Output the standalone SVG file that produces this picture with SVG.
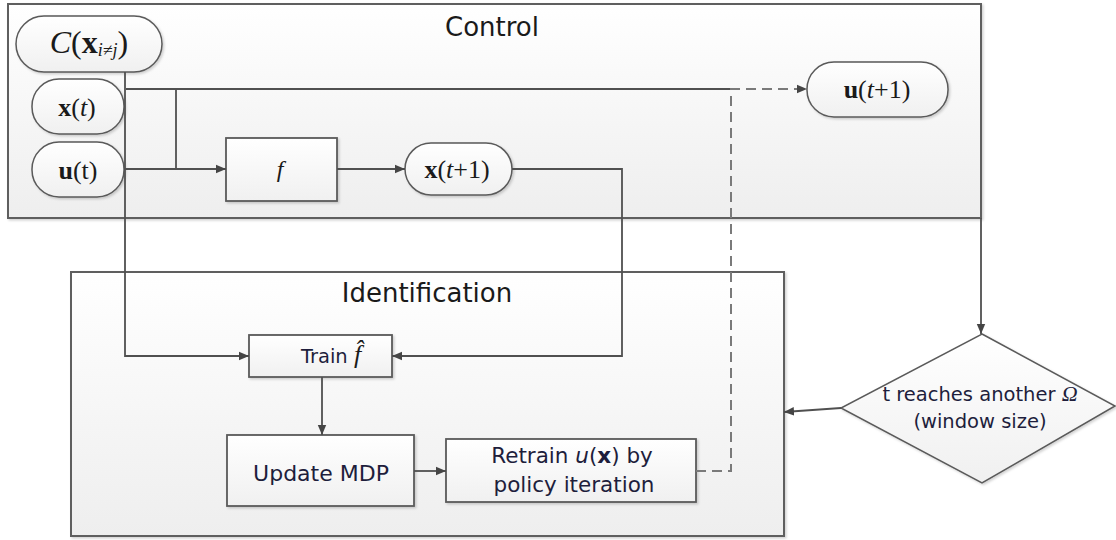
<svg xmlns="http://www.w3.org/2000/svg" width="1116" height="540" viewBox="0 0 1116 540">
  <defs>
    <linearGradient id="panelFill" x1="0" y1="0" x2="0" y2="1">
      <stop offset="0" stop-color="#ffffff"/>
      <stop offset="1" stop-color="#eeeeee"/>
    </linearGradient>
    <linearGradient id="nodeFill" x1="0" y1="0" x2="0" y2="1">
      <stop offset="0" stop-color="#ffffff"/>
      <stop offset="1" stop-color="#f0f0f0"/>
    </linearGradient>
    <filter id="shadow" x="-5%" y="-5%" width="110%" height="115%">
      <feDropShadow dx="1.5" dy="1.5" stdDeviation="1.2" flood-color="#000000" flood-opacity="0.18"/>
    </filter>
    <marker id="arrow" viewBox="0 0 10 10" refX="10" refY="5" markerWidth="10" markerHeight="10" markerUnits="userSpaceOnUse" orient="auto">
      <path d="M0,0.8 L10,5 L0,9.2 Z" fill="#454545"/>
    </marker>
    <style>
      .panel { fill: url(#panelFill); stroke: #5e5e5e; stroke-width: 2; filter: url(#shadow); }
      .box { fill: url(#nodeFill); stroke: #5a5a5a; stroke-width: 1.8; filter: url(#shadow); }
      .pill { fill: url(#nodeFill); stroke: #5a5a5a; stroke-width: 1.5; filter: url(#shadow); }
      .title { font-family: "DejaVu Sans", "Liberation Sans", sans-serif; font-size: 26px; fill: #1a1a1a; text-anchor: middle; }
      .label { font-family: "DejaVu Sans", "Liberation Sans", sans-serif; fill: #1e1e3c; text-anchor: middle; }
      .math { font-family: "Liberation Serif", "DejaVu Serif", serif; fill: #1a1a1a; text-anchor: middle; }
      .serif { font-family: "Liberation Serif", "DejaVu Serif", serif; }
      .wire { fill: none; stroke: #505050; stroke-width: 1.8; }
      .dash { fill: none; stroke: #7a7a7a; stroke-width: 2; stroke-dasharray: 10 6; }
      .b { font-weight: bold; }
      .i { font-style: italic; }
    </style>
  </defs>

  <rect width="1116" height="540" fill="#ffffff"/>

  <!-- Control panel -->
  <g id="control">
    <rect class="panel" x="8" y="4" width="973" height="214"/>
    <text class="title" x="492" y="36">Control</text>
  </g>

  <!-- Identification panel -->
  <g id="identification">
    <rect class="panel" x="71" y="272" width="713" height="264"/>
    <text class="title" x="427" y="302">Identification</text>
  </g>

  <!-- Cost input C(x_{i≠j}) -->
  <g id="node-cost">
    <rect class="pill" x="16" y="16" width="146" height="56" rx="28" ry="28"/>
    <text class="math" x="89" y="53" font-size="32" fill="#202048"><tspan class="i">C</tspan>(<tspan class="b">x</tspan><tspan class="i" font-size="18" dy="3">i≠j</tspan><tspan dy="-3">)</tspan></text>
  </g>

  <!-- State x(t) -->
  <g id="node-xt">
    <rect class="pill" x="32" y="79" width="92" height="55" rx="27" ry="27"/>
    <text class="math" x="77" y="116" font-size="26"><tspan class="b">x</tspan>(<tspan class="i">t</tspan>)</text>
  </g>

  <!-- Action u(t) -->
  <g id="node-ut">
    <rect class="pill" x="32" y="142" width="92" height="55" rx="27" ry="27"/>
    <text class="math" x="78" y="179" font-size="26"><tspan class="b">u</tspan>(t)</text>
  </g>

  <!-- Dynamics f -->
  <g id="node-f">
    <rect class="box" x="226" y="138" width="111" height="63"/>
    <text class="math i" x="280" y="177" font-size="24">f</text>
  </g>

  <!-- Next state x(t+1) -->
  <g id="node-xt1">
    <rect class="pill" x="405" y="143" width="107" height="52" rx="26" ry="26"/>
    <text class="math" x="457" y="178" font-size="26"><tspan class="b">x</tspan>(<tspan class="i">t</tspan>+1)</text>
  </g>

  <!-- Next action u(t+1) -->
  <g id="node-ut1">
    <rect class="pill" x="807" y="62" width="141" height="55" rx="27" ry="27"/>
    <text class="math" x="877" y="98" font-size="26"><tspan class="b">u</tspan>(<tspan class="i">t</tspan>+1)</text>
  </g>

  <!-- Train f-hat -->
  <g id="node-train">
    <rect class="box" x="249" y="335" width="143" height="42"/>
    <text class="label" x="331" y="363" font-size="19.5">Train <tspan class="serif i" font-size="26" fill="#1a1a1a">f̂</tspan></text>
  </g>

  <!-- Update MDP -->
  <g id="node-mdp">
    <rect class="box" x="227" y="435" width="187" height="71"/>
    <text class="label" x="321" y="481" font-size="22">Update MDP</text>
  </g>

  <!-- Retrain policy -->
  <g id="node-retrain">
    <rect class="box" x="446" y="439" width="250" height="63"/>
    <text class="label" x="572" y="463" font-size="21.5">Retrain <tspan class="i">u</tspan>(<tspan class="b">x</tspan>) by</text>
    <text class="label" x="574" y="492" font-size="21.5">policy iteration</text>
  </g>

  <!-- Window check -->
  <g id="node-window">
    <polygon points="982,334 1115,406 982,483 841,408" fill="url(#nodeFill)" stroke="#5a5a5a" stroke-width="1.5" filter="url(#shadow)"/>
    <text class="label" x="980" y="401" font-size="19.5">t reaches another <tspan class="serif i" font-size="22">Ω</tspan></text>
    <text class="label" x="980" y="428" font-size="19.5">(window size)</text>
  </g>

  <!-- Connectors -->
  <g id="connectors">
    <!-- cost to training -->
    <path class="wire" d="M125,72 V356 H249" marker-end="url(#arrow)"/>
    <!-- state line -->
    <path class="wire" d="M126,89 H731"/>
    <path class="wire" d="M176,89 V169"/>
    <!-- action to dynamics -->
    <path class="wire" d="M124,169 H226" marker-end="url(#arrow)"/>
    <!-- dynamics to next state -->
    <path class="wire" d="M337,169 H405" marker-end="url(#arrow)"/>
    <!-- next state to training -->
    <path class="wire" d="M512,169 H622 V356 H392" marker-end="url(#arrow)"/>
    <!-- training to MDP update -->
    <path class="wire" d="M322,377 V435" marker-end="url(#arrow)"/>
    <!-- MDP update to retrain -->
    <path class="wire" d="M414,471 H446" marker-end="url(#arrow)"/>
    <!-- retrained policy to next action -->
    <path class="dash" d="M696,471 H731 V89 H807" marker-end="url(#arrow)"/>
    <!-- control to window check -->
    <path class="wire" d="M981,218 V334" marker-end="url(#arrow)"/>
    <!-- window check back to identification -->
    <path class="wire" d="M841,408 L784,412" marker-end="url(#arrow)"/>
  </g>
</svg>
